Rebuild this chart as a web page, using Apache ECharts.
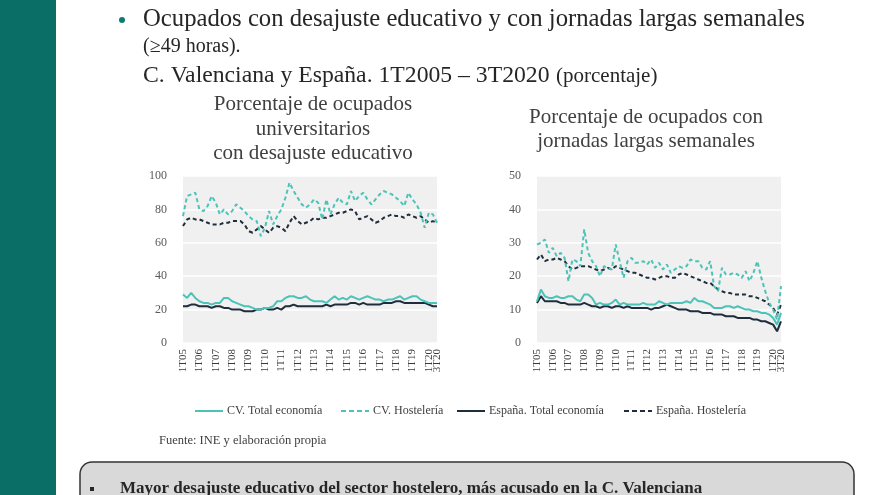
<!DOCTYPE html>
<html>
<head>
<meta charset="utf-8">
<script src="https://cdn.jsdelivr.net/npm/echarts@6/dist/echarts.min.js"></script>
<style>
html, body { margin: 0; padding: 0; background: #fff; }
#main { width: 880px; height: 495px; }
</style>
</head>
<body>
<div id="main"></div>
<script>
// trimestres 1T05 .. 3T20
var years = ['05','06','07','08','09','10','11','12','13','14','15','16','17','18','19','20'];
var quarters = [];
years.forEach(function (y) {
    for (var q = 1; q <= 4; q++) {
        if (y === '20' && q > 3) break;
        quarters.push(q + 'T' + y);
    }
});

var seriesNames = ['CV. Total economía', 'CV. Hostelería', 'España. Total economía', 'España. Hostelería'];

// % ocupados universitarios con desajuste educativo
var cvTotalDesajuste = [29,27,30,27,25,24,24,23,24,24,27,27,25,24,23,22,22,21,20,20,21,21,22,25,25,27,28,28,27,27,28,26,25,25,25,24,26,28,26,27,26,28,27,26,27,28,27,26,26,25,26,26,27,28,26,27,28,28,26,25,24,24,24];
var cvHostDesajuste = [76,88,89,90,80,79,82,88,84,77,80,77,79,83,81,79,76,74,73,64,69,79,71,76,80,87,96,91,87,83,81,83,86,84,74,86,77,83,87,84,83,91,85,88,90,86,83,86,89,91,90,89,87,85,82,90,86,83,78,69,78,77,72];
var espTotalDesajuste = [22,22,23,23,22,22,22,21,22,22,21,21,20,20,20,19,19,19,20,20,21,20,20,21,20,22,22,23,22,22,22,22,22,22,22,23,22,23,23,23,23,24,24,23,24,23,23,23,23,24,24,24,25,25,24,24,24,24,24,24,23,22,22];
var espHostDesajuste = [70,74,75,74,74,73,72,71,71,71,72,72,73,73,73,71,67,66,68,70,68,66,69,70,69,67,72,76,73,71,72,73,75,74,75,75,76,77,78,78,79,80,79,74,75,76,74,72,73,75,76,77,76,76,75,77,76,75,76,74,72,73,72];

// % ocupados con jornadas largas semanales
var cvTotalJornada = [12.5,16,14,13.5,13.5,14,13.5,13.5,14,14,13,12.5,14.5,14.5,13.5,11.5,12,11.5,11.5,12,13,11.5,12,11.5,11.5,11.5,11.5,12,11.5,11.5,11.5,12.5,12,11.5,12,12,12,12,12.5,12,13.5,12.5,12.5,12,11.5,10.5,10.5,10.5,11,11,10.5,11,10.5,10,10,9.5,9.5,9,9,8.5,7.5,5.5,9];
var cvHostJornada = [29.5,30,31,27,28.5,26,27,25.5,18.5,25,24.5,23,34,27,24.5,23,20,23,22.5,22,29.5,24.5,19.5,24.5,25.5,24,24,24.5,23.5,25,22.5,24,22,23.5,21,22,23,22.5,23,25,24.5,24.5,22.5,22,24.5,17,15.5,22.5,20.5,20.5,21,20.5,19.5,21.5,18.5,21,24.5,19.5,15.5,12,10,7,17];
var espTotalJornada = [12,14,12.5,12.5,12.5,12.5,12,12,11.5,11.5,11.5,11.5,12,11.5,11,11,10.5,11,11,10.5,11,11,10.5,11,10.5,10.5,10.5,10.5,10.5,10,10.5,10.5,11,11.5,11,10.5,10,10,10,9.5,9.5,9.5,9,9,9,8.5,8.5,8.5,8,8,8,7.5,7.5,7.5,7.5,7,7,6.5,6.5,6,5.5,3.5,6.5];
var espHostJornada = [25,26.5,24.5,25,25,25.5,25,24.5,23,22,22.5,23,23,23,22.5,22,21.5,22,22.5,22,23,22.5,22,21.5,21,21,20.5,20,19.5,19.5,19,19.5,20,20,19.5,19.5,20.5,21,20.5,20,19.5,19,18.5,18,18,17,16,15.5,15,15,14.5,14.5,14.5,14.5,14,14,13.5,13,12.5,11.5,10.5,8.5,11.5];

var teal = '#4cc3b8';
var dark = '#1f2d3d';
var serif = 'Liberation Serif';

// iconos de leyenda: linea continua / discontinua
var solidIcon = 'path://M0,0h28v2h-28z';
var dashIcon = 'path://M0,0h5v2h-5zM8,0h5v2h-5zM16,0h5v2h-5zM24,0h4v2h-4z';

function lineSeries(name, data, idx) {
    var isCV = name.indexOf('CV') === 0;
    var isHost = name.indexOf('Hostel') >= 0;
    return {
        name: name,
        type: 'line',
        xAxisIndex: idx,
        yAxisIndex: idx,
        data: data,
        symbol: 'none',
        z: isCV ? 3 : 2,
        lineStyle: {
            color: isCV ? teal : dark,
            width: 2,
            type: isHost ? [4, 3] : 'solid'
        },
        itemStyle: { color: isCV ? teal : dark }
    };
}

function xAxisFor(idx) {
    var last = quarters.length - 1;
    return {
        type: 'category',
        gridIndex: idx,
        data: quarters,
        boundaryGap: false,
        axisLine: { show: false },
        axisTick: { show: false },
        axisLabel: {
            rotate: 90,
            margin: 6,
            fontFamily: serif,
            fontSize: 11,
            color: '#3a3a3a',
            interval: 0,
            // una etiqueta por año (1er trimestre) y la última
            formatter: function (v, i) { return (i % 4 === 0 || i === last) ? v : ''; }
        }
    };
}

function yAxisFor(idx, max, step) {
    return {
        type: 'value',
        gridIndex: idx,
        min: 0,
        max: max,
        interval: step,
        axisLine: { show: false },
        axisTick: { show: false },
        axisLabel: { fontFamily: serif, fontSize: 12, color: '#595959', margin: 16 },
        splitLine: { lineStyle: { color: '#ffffff', width: 1.5 } }
    };
}

function legendAt(x, i) {
    return {
        data: [{ name: seriesNames[i], icon: i % 2 ? dashIcon : solidIcon }],
        left: x,
        top: 400,
        itemWidth: 28,
        itemHeight: 2,
        itemGap: 4,
        textStyle: { fontFamily: serif, fontSize: 12, color: '#404040', padding: [0, 0, 0, -1] }
    };
}

function txt(x, y, s, size, opt) {
    opt = opt || {};
    return {
        type: 'text',
        x: x, y: y,
        style: {
            text: s,
            fontFamily: serif,
            fontSize: size,
            fontWeight: opt.bold ? 'bold' : 'normal',
            fill: opt.color || '#262626',
            textAlign: opt.align || 'left',
            textVerticalAlign: 'middle'
        }
    };
}

var chart = echarts.init(document.getElementById('main'));

var option = {
    animation: false,
    backgroundColor: '#ffffff',
    grid: [
        { left: 183, right: 443, top: 176, bottom: 152, show: true, backgroundColor: '#f0f0f0', borderWidth: 0 },
        { left: 537, right: 99, top: 176, bottom: 152, show: true, backgroundColor: '#f0f0f0', borderWidth: 0 }
    ],
    xAxis: [xAxisFor(0), xAxisFor(1)],
    yAxis: [yAxisFor(0, 100, 20), yAxisFor(1, 50, 10)],
    legend: [legendAt(190, 0), legendAt(336, 1), legendAt(452, 2), legendAt(619, 3)],
    series: [
        lineSeries(seriesNames[2], espTotalDesajuste, 0),
        lineSeries(seriesNames[3], espHostDesajuste, 0),
        lineSeries(seriesNames[0], cvTotalDesajuste, 0),
        lineSeries(seriesNames[1], cvHostDesajuste, 0),
        lineSeries(seriesNames[2], espTotalJornada, 1),
        lineSeries(seriesNames[3], espHostJornada, 1),
        lineSeries(seriesNames[0], cvTotalJornada, 1),
        lineSeries(seriesNames[1], cvHostJornada, 1)
    ],
    graphic: [
        // banda lateral
        { type: 'rect', shape: { x: 0, y: 0, width: 56, height: 495 }, style: { fill: '#0a6e67' } },
        // caja inferior
        { type: 'rect', shape: { x: 80, y: 462, width: 774, height: 60, r: 12 }, style: { fill: '#d9d9d9', stroke: '#333333', lineWidth: 1.5 } },
        { type: 'rect', shape: { x: 90, y: 487, width: 4, height: 4 }, style: { fill: '#262626' } },
        { type: 'circle', shape: { cx: 122, cy: 20, r: 3 }, style: { fill: '#0e7a70' } },
        txt(143, 20, 'Ocupados con desajuste educativo y con jornadas largas semanales', 24.7),
        txt(143, 47, '(≥49 horas).', 20),
        txt(143, 76, 'C. Valenciana y España. 1T2005 – 3T2020', 23.7),
        txt(556, 76, '(porcentaje)', 21),
        txt(313, 104, 'Porcentaje de ocupados', 21, { align: 'center', color: '#404040' }),
        txt(313, 129, 'universitarios', 21, { align: 'center', color: '#404040' }),
        txt(313, 153, 'con desajuste educativo', 21, { align: 'center', color: '#404040' }),
        txt(646, 117, 'Porcentaje de ocupados con', 21, { align: 'center', color: '#404040' }),
        txt(646, 141, 'jornadas largas semanales', 21, { align: 'center', color: '#404040' }),
        txt(159, 441, 'Fuente: INE y elaboración propia', 12.5, { color: '#404040' }),
        txt(120, 489, 'Mayor desajuste educativo del sector hostelero, más acusado en la C. Valenciana', 17, { bold: true })
    ]
};

chart.setOption(option);
</script>
</body>
</html>
